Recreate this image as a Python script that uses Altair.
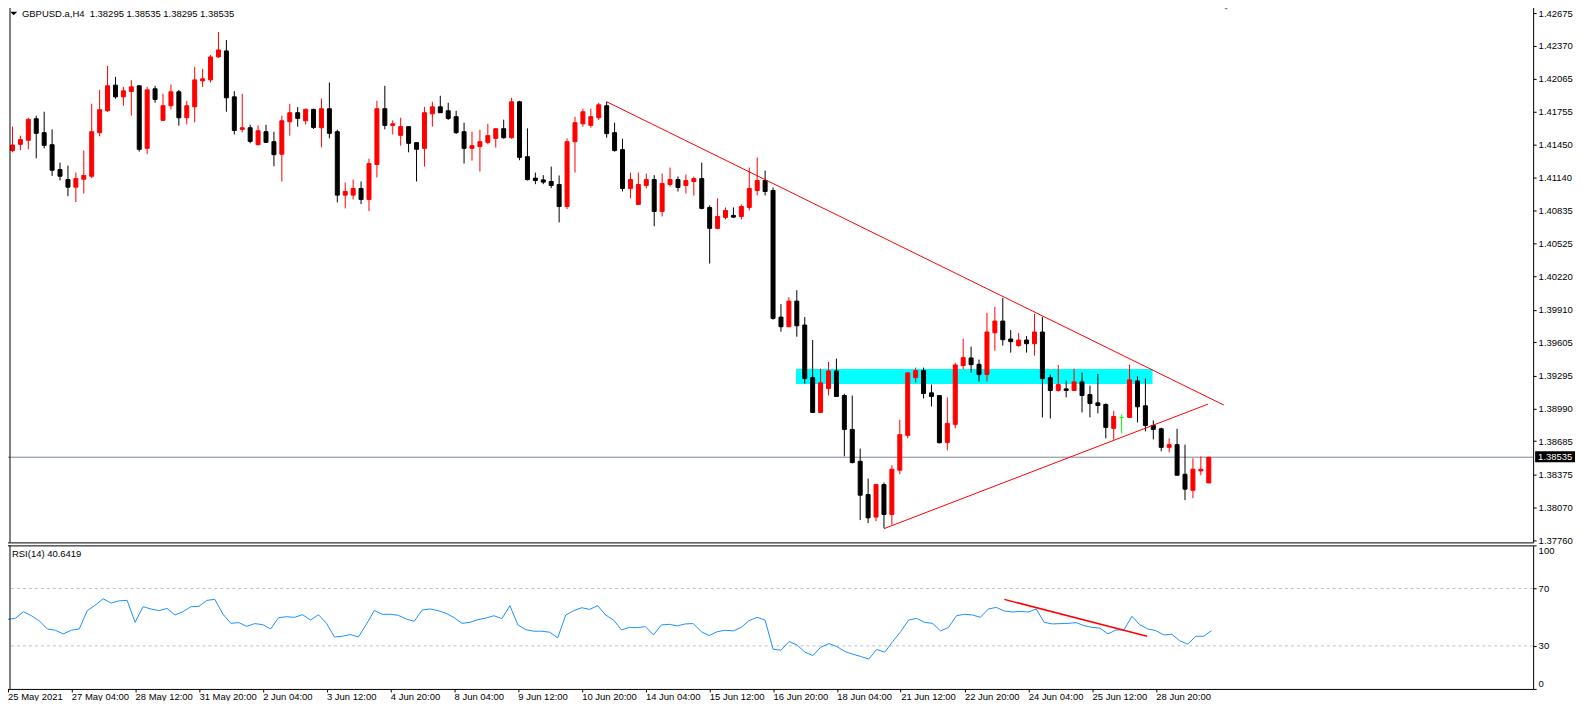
import json
import numpy as np
import pandas as pd
import altair as alt

# ---------------- data ----------------
symbol = "GBPUSD.a,H4"

opens = [1.41393, 1.41451, 1.41489, 1.41690, 1.41560, 1.41448, 1.41216, 1.41123, 1.41052, 1.41126,
         1.41154, 1.41560, 1.41764, 1.42003, 1.41894, 1.41944, 1.41997, 1.41414, 1.41969, 1.41675,
         1.41811, 1.41941, 1.41699, 1.41801, 1.42043, 1.42052, 1.42266, 1.42322, 1.41894, 1.41591,
         1.41606, 1.41448, 1.41569, 1.41476, 1.41359, 1.41662, 1.41746, 1.41671, 1.41777, 1.41606,
         1.41783, 1.41569, 1.40978, 1.40978, 1.41040, 1.40937, 1.41263, 1.41783, 1.41628, 1.41535,
         1.41616, 1.41467, 1.41414, 1.41736, 1.41801, 1.41764, 1.41709, 1.41569, 1.41414, 1.41430,
         1.41470, 1.41507, 1.41597, 1.41513, 1.41848, 1.41336, 1.41136, 1.41120, 1.41105, 1.41077,
         1.40872, 1.41476, 1.41643, 1.41628, 1.41699, 1.41811, 1.41560, 1.41402, 1.41040, 1.40891,
         1.41068, 1.41123, 1.40826, 1.41077, 1.41123, 1.41068, 1.41105, 1.41132, 1.40863, 1.40668,
         1.40770, 1.40789, 1.40779, 1.40863, 1.41021, 1.41114, 1.41021, 1.39841, 1.39751, 1.39990,
         1.39767, 1.39277, 1.38952, 1.39175, 1.39339, 1.39110, 1.38794, 1.38497, 1.38187, 1.37977,
         1.38280, 1.38001, 1.38414, 1.38739, 1.39277, 1.39342, 1.39135, 1.39110, 1.38673, 1.38841,
         1.39389, 1.39460, 1.39401, 1.39305, 1.39695, 1.39804, 1.39637, 1.39575, 1.39627, 1.39593,
         1.39702, 1.39277, 1.39157, 1.39172, 1.39157, 1.39237, 1.39119, 1.39042, 1.39027, 1.38804,
         1.38906, 1.38906, 1.39246, 1.39014, 1.38831, 1.38800, 1.38627, 1.38652, 1.38376, 1.38227,
         1.38407, 1.38295]

highs = [1.41616, 1.41532, 1.41699, 1.41718, 1.41755, 1.41591, 1.41281, 1.41253, 1.41188, 1.41393,
         1.41829, 1.41959, 1.42182, 1.42080, 1.41987, 1.42049, 1.42000, 1.41987, 1.41997, 1.41922,
         1.42009, 1.41959, 1.41857, 1.42173, 1.42155, 1.42285, 1.42498, 1.42424, 1.41947, 1.41922,
         1.41634, 1.41628, 1.41634, 1.41569, 1.41718, 1.41829, 1.41798, 1.41786, 1.41783, 1.41876,
         1.42028, 1.41588, 1.41095, 1.41123, 1.41105, 1.41318, 1.41857, 1.41997, 1.41675, 1.41699,
         1.41620, 1.41470, 1.41801, 1.41848, 1.41904, 1.41839, 1.41764, 1.41653, 1.41569, 1.41588,
         1.41643, 1.41600, 1.41681, 1.41885, 1.41857, 1.41600, 1.41188, 1.41164, 1.41244, 1.41161,
         1.41507, 1.41709, 1.41783, 1.41783, 1.41839, 1.41848, 1.41653, 1.41504, 1.41188, 1.41188,
         1.41179, 1.41164, 1.41179, 1.41235, 1.41151, 1.41170, 1.41151, 1.41281, 1.40882, 1.40947,
         1.40863, 1.40863, 1.40891, 1.41235, 1.41328, 1.41207, 1.41049, 1.39962, 1.40027, 1.40092,
         1.39841, 1.39627, 1.39361, 1.39423, 1.39454, 1.39126, 1.39110, 1.38615, 1.38336, 1.38286,
         1.38299, 1.38460, 1.38884, 1.39324, 1.39370, 1.39370, 1.39212, 1.39113, 1.39092, 1.39414,
         1.39640, 1.39565, 1.39445, 1.39881, 1.39937, 1.40021, 1.39720, 1.39692, 1.39664, 1.39872,
         1.39841, 1.39305, 1.39395, 1.39249, 1.39361, 1.39324, 1.39203, 1.39311, 1.39036, 1.38968,
         1.38934, 1.39398, 1.39287, 1.39268, 1.38878, 1.38810, 1.38711, 1.38800, 1.38652, 1.38525,
         1.38543, 1.38535]

lows = [1.41377, 1.41396, 1.41405, 1.41321, 1.41414, 1.41157, 1.41114, 1.40968, 1.40913, 1.40993,
        1.41136, 1.41526, 1.41755, 1.41876, 1.41811, 1.41718, 1.41383, 1.41359, 1.41839, 1.41672,
        1.41777, 1.41625, 1.41637, 1.41656, 1.41987, 1.42028, 1.42257, 1.41755, 1.41544, 1.41563,
        1.41461, 1.41442, 1.41464, 1.41247, 1.41105, 1.41532, 1.41616, 1.41637, 1.41594, 1.41424,
        1.41507, 1.40910, 1.40854, 1.40937, 1.40894, 1.40829, 1.41142, 1.41591, 1.41544, 1.41439,
        1.41377, 1.41105, 1.41244, 1.41616, 1.41743, 1.41678, 1.41548, 1.41272, 1.41300, 1.41198,
        1.41451, 1.41421, 1.41504, 1.41504, 1.41303, 1.41114, 1.41080, 1.41080, 1.41043, 1.40724,
        1.40848, 1.41188, 1.41616, 1.41606, 1.41678, 1.41513, 1.41383, 1.41012, 1.40947, 1.40888,
        1.41040, 1.40687, 1.40779, 1.41058, 1.41012, 1.40993, 1.40975, 1.40845, 1.40340, 1.40659,
        1.40752, 1.40764, 1.40752, 1.40835, 1.40975, 1.40975, 1.39817, 1.39705, 1.39748, 1.39658,
        1.39222, 1.38949, 1.38949, 1.39110, 1.39098, 1.38543, 1.38478, 1.37949, 1.37921, 1.37939,
        1.37874, 1.37902, 1.38376, 1.38711, 1.39231, 1.39082, 1.39008, 1.38664, 1.38599, 1.38804,
        1.39355, 1.39324, 1.39240, 1.39240, 1.39528, 1.39575, 1.39510, 1.39565, 1.39510, 1.39482,
        1.38906, 1.38896, 1.39147, 1.39092, 1.39154, 1.38952, 1.38906, 1.38943, 1.38711, 1.38698,
        1.38757, 1.38900, 1.38859, 1.38776, 1.38701, 1.38590, 1.38581, 1.38364, 1.38135, 1.38153,
        1.38367, 1.38295]

closes = [1.41445, 1.41495, 1.41684, 1.41554, 1.41442, 1.41210, 1.41154, 1.41052, 1.41132, 1.41161,
          1.41569, 1.41774, 1.41997, 1.41894, 1.41950, 1.41987, 1.41405, 1.41959, 1.41870, 1.41811,
          1.41941, 1.41699, 1.41811, 1.42052, 1.42062, 1.42266, 1.42331, 1.41885, 1.41581, 1.41606,
          1.41479, 1.41578, 1.41470, 1.41355, 1.41671, 1.41746, 1.41693, 1.41777, 1.41609, 1.41783,
          1.41554, 1.40978, 1.41012, 1.41040, 1.40937, 1.41272, 1.41783, 1.41628, 1.41643, 1.41616,
          1.41461, 1.41405, 1.41746, 1.41801, 1.41746, 1.41693, 1.41560, 1.41414, 1.41439, 1.41476,
          1.41532, 1.41597, 1.41513, 1.41848, 1.41330, 1.41123, 1.41114, 1.41099, 1.41068, 1.40872,
          1.41476, 1.41653, 1.41755, 1.41709, 1.41820, 1.41551, 1.41393, 1.41040, 1.41123, 1.41077,
          1.41123, 1.40826, 1.41086, 1.41123, 1.41049, 1.41114, 1.41132, 1.40854, 1.40668, 1.40779,
          1.40835, 1.40773, 1.40872, 1.41040, 1.41114, 1.41012, 1.39829, 1.39751, 1.39990, 1.39760,
          1.39268, 1.38952, 1.39228, 1.39339, 1.39101, 1.38794, 1.38485, 1.38181, 1.37970, 1.38280,
          1.38001, 1.38423, 1.38745, 1.39321, 1.39342, 1.39129, 1.39101, 1.38670, 1.38850, 1.39395,
          1.39463, 1.39398, 1.39305, 1.39702, 1.39804, 1.39630, 1.39612, 1.39627, 1.39593, 1.39702,
          1.39268, 1.39157, 1.39212, 1.39157, 1.39237, 1.39110, 1.39036, 1.39017, 1.38813, 1.38915,
          1.38906, 1.39256, 1.39005, 1.38831, 1.38794, 1.38627, 1.38652, 1.38367, 1.38237, 1.38423,
          1.38423, 1.38535]

rsi_values = [48.5, 49.2, 53.8, 51.0, 47.3, 41.8, 40.9, 38.3, 40.9, 41.8,
              54.5, 58.4, 62.8, 59.8, 61.4, 61.7, 46.4, 57.3, 55.7, 54.5,
              56.1, 51.5, 53.8, 57.3, 57.5, 61.7, 62.4, 52.2, 45.7, 46.2,
              43.6, 45.5, 44.8, 41.8, 49.7, 50.3, 49.9, 51.7, 48.0, 51.7,
              45.7, 36.2, 36.7, 37.9, 36.2, 45.0, 54.7, 52.0, 52.0, 51.3,
              48.7, 47.1, 55.0, 55.7, 54.5, 52.7, 49.7, 45.7, 46.4, 48.3,
              49.4, 51.0, 49.0, 58.0, 44.6, 41.3, 40.2, 40.2, 39.5, 35.6,
              51.5, 54.5, 56.6, 55.4, 58.0, 51.5, 48.0, 41.1, 42.9, 42.7,
              43.4, 37.6, 44.6, 45.0, 43.9, 45.3, 45.5, 39.9, 37.2, 39.9,
              40.9, 40.4, 42.9, 47.6, 49.9, 48.0, 27.7, 27.0, 33.0, 30.7,
              25.6, 23.3, 29.1, 31.6, 29.5, 26.1, 24.2, 22.6, 20.8, 27.5,
              25.6, 33.0, 39.9, 48.0, 49.2, 46.4, 45.7, 40.4, 42.9, 51.0,
              52.0, 51.5, 49.9, 55.7, 56.8, 54.3, 53.6, 54.0, 53.6, 55.7,
              46.4, 45.3, 45.5, 45.7, 46.2, 44.1, 42.9, 42.3, 38.3, 41.1,
              41.1, 50.6, 44.6, 41.8, 40.6, 37.6, 38.1, 33.5, 31.2, 36.7,
              36.7, 40.6419]

x_labels = ["25 May 2021", "27 May 04:00", "28 May 12:00", "31 May 20:00", "2 Jun 04:00",
            "3 Jun 12:00", "4 Jun 20:00", "8 Jun 04:00", "9 Jun 12:00", "10 Jun 20:00",
            "14 Jun 04:00", "15 Jun 12:00", "16 Jun 20:00", "18 Jun 04:00", "21 Jun 12:00",
            "22 Jun 20:00", "24 Jun 04:00", "25 Jun 12:00", "28 Jun 20:00"]
bars_per_label = 8

price_ticks = [1.42675, 1.42370, 1.42065, 1.41755, 1.41450, 1.41140, 1.40835, 1.40525, 1.40220,
               1.39910, 1.39605, 1.39295, 1.38990, 1.38685, 1.38375, 1.38070, 1.37760]
price_domain = [1.37741, 1.42749]

rsi_ticks = [0, 30, 70, 100]
rsi_levels = [30, 70]

bid_price = 1.38535

zone_from, zone_to = 98.9, 143.9
zone_low, zone_high = 1.39218, 1.39358

trend_start_bar = [75, 110]
trend_start_price = [1.41848, 1.37869]
trend_end_bar = [152.9, 150.9]
trend_end_price = [1.39021, 1.39030]

rsi_trend_bar = [125.0, 142.9]
rsi_trend_value = [62.4, 36.7]

# ---------------- build tables ----------------
n = len(opens)
df = pd.DataFrame({"i": np.arange(n), "O": opens, "H": highs, "L": lows, "C": closes})
df["dir"] = np.where(df["C"] > df["O"], "up", np.where(df["C"] < df["O"], "down", "doji"))
rsi_df = pd.DataFrame({"i": np.arange(n), "rsi": rsi_values})

zone_df = pd.DataFrame({"x1": [zone_from], "x2": [zone_to], "p1": [zone_low], "p2": [zone_high]})
trend_df = pd.DataFrame({"x1": trend_start_bar, "y1": trend_start_price,
                         "x2": trend_end_bar, "y2": trend_end_price})
bid_df = pd.DataFrame({"price": [bid_price], "label": [f"{bid_price:.5f}"]})
lvl_df = pd.DataFrame({"lvl": rsi_levels})
rsi_tr_df = pd.DataFrame({"x1": [rsi_trend_bar[0]], "x2": [rsi_trend_bar[1]],
                          "y1": [rsi_trend_value[0]], "y2": [rsi_trend_value[1]]})

title_text = (f"{symbol}\u00a0\u00a0{opens[-1]:.5f} {highs[-1]:.5f} "
              f"{lows[-1]:.5f} {closes[-1]:.5f}")
title_df = pd.DataFrame({"t": [title_text]})
rsi_title_df = pd.DataFrame({"t": [f"RSI(14) {rsi_values[-1]:.4f}"]})

# ---------------- styling ----------------
FONT = "Liberation Sans"
FS = 9.5
W = 1531
H_MAIN = 539
H_RSI = 144

x_scale = alt.Scale(domain=[-0.0625, -0.0625 + W / 8], nice=False, zero=False)
y_scale = alt.Scale(domain=price_domain, nice=False, zero=False)
r_scale = alt.Scale(domain=[0, 100], nice=False, zero=False)
color_scale = alt.Scale(domain=["up", "down", "doji"], range=["#FF0000", "#000000", "#00FF00"])

price_axis = alt.Axis(orient="right", values=price_ticks, format=".5f", title=None,
                      tickSize=3, labelPadding=2, labelFlush=False, labelOverlap=False)
time_axis = alt.Axis(values=list(range(0, bars_per_label * len(x_labels), bars_per_label)),
                     labelExpr=f"{json.dumps(x_labels)}[round(datum.value / {bars_per_label})]",
                     labelAlign="left", labelFlush=False, labelOverlap=False, labelPadding=0,
                     tickSize=3, labelBaseline="top", title=None)
rsi_axis = alt.Axis(orient="right", values=rsi_ticks, title=None, tickSize=3,
                    labelPadding=2, labelFlush=True, labelOverlap=False)


def PX(f):
    return alt.X(f, type="quantitative", scale=x_scale, axis=None)


def PY(f):
    return alt.Y(f, type="quantitative", scale=y_scale, axis=price_axis)


# ---------------- main price panel ----------------
zone = alt.Chart(zone_df).mark_rect(color="#00FFFF").encode(
    x=PX("x1"), x2="x2:Q", y=PY("p1"), y2="p2:Q")

bid_line = alt.Chart(bid_df).mark_rule(color="#778899", strokeWidth=1).encode(y=PY("price"))

wicks = alt.Chart(df).mark_rule(strokeWidth=1).encode(
    x=PX("i"), y=PY("L"), y2="H:Q",
    color=alt.Color("dir:N", scale=color_scale, legend=None))

bodies = alt.Chart(df).mark_bar(size=4, strokeWidth=1).encode(
    x=PX("i"), y=PY("O"), y2="C:Q",
    color=alt.Color("dir:N", scale=color_scale, legend=None),
    stroke=alt.Stroke("dir:N", scale=color_scale, legend=None))

trends = alt.Chart(trend_df).mark_rule(color="#FF0000", strokeWidth=1).encode(
    x=PX("x1"), x2="x2:Q", y=PY("y1"), y2="y2:Q")

bid_box = alt.Chart(bid_df).mark_rect(color="#000000", yOffset=-6, y2Offset=5).encode(
    x=alt.value(W + 2), x2=alt.value(W + 42), y=PY("price"), y2="price:Q")

bid_text = alt.Chart(bid_df).mark_text(align="left", baseline="middle", font=FONT,
                                       fontSize=FS, color="white", dx=5).encode(
    x=alt.value(W), y=PY("price"), text="label:N")

title_mark = alt.Chart(title_df).mark_text(align="left", baseline="middle", font=FONT,
                                           fontSize=FS, color="black").encode(
    x=alt.value(15), y=alt.value(9), text="t:N")

title_tri = alt.Chart(title_df).mark_point(shape="M-1,-0.5L1,-0.5L0,0.5Z", filled=True,
                                           color="black", size=49, opacity=1,
                                           strokeWidth=0).encode(
    x=alt.value(6.7), y=alt.value(8.5))

shift_tri = alt.Chart(title_df).mark_point(shape="M-1,-0.5L1,-0.5L0,0.5Z", filled=True,
                                           color="#778899", size=81, opacity=1,
                                           strokeWidth=0).encode(
    x=alt.value(W - 308), y=alt.value(2.5))

left_edge_main = alt.Chart(title_df).mark_rule(color="black", strokeWidth=1).encode(
    x=alt.value(3), y=alt.value(0), y2=alt.value(H_MAIN))

main = alt.layer(zone, bid_line, wicks, bodies, trends, bid_box, bid_text,
                 title_mark, title_tri, shift_tri, left_edge_main).properties(width=W, height=H_MAIN)

# ---------------- RSI panel ----------------
levels = alt.Chart(lvl_df).mark_rule(color="#C0C0C0", strokeDash=[3, 3], strokeWidth=1).encode(
    y=alt.Y("lvl:Q", scale=r_scale, axis=rsi_axis))

rsi_line = alt.Chart(rsi_df).mark_line(color="#1E90FF", strokeWidth=1).encode(
    x=alt.X("i:Q", scale=x_scale, axis=time_axis),
    y=alt.Y("rsi:Q", scale=r_scale, axis=rsi_axis))

rsi_trend = alt.Chart(rsi_tr_df).mark_rule(color="#FF0000", strokeWidth=1.5).encode(
    x=alt.X("x1:Q", scale=x_scale, axis=time_axis), x2="x2:Q",
    y=alt.Y("y1:Q", scale=r_scale, axis=rsi_axis), y2="y2:Q")

rsi_title = alt.Chart(rsi_title_df).mark_text(align="left", baseline="middle", font=FONT,
                                              fontSize=FS, color="black").encode(
    x=alt.value(5), y=alt.value(9), text="t:N")

left_edge_rsi = alt.Chart(rsi_title_df).mark_rule(color="black", strokeWidth=1).encode(
    x=alt.value(3), y=alt.value(0), y2=alt.value(H_RSI))

rsi_panel = alt.layer(levels, rsi_line, rsi_trend, rsi_title,
                      left_edge_rsi).properties(width=W, height=H_RSI)

chart = alt.vconcat(main, rsi_panel, spacing=3, bounds="flush").properties(
    padding={"left": -3, "top": -5, "right": 0, "bottom": -2},
    background="white",
).configure_view(
    stroke="black", strokeWidth=1
).configure_axis(
    labelFont=FONT, labelFontSize=FS, labelColor="black", tickColor="black",
    domain=False, grid=False
)

chart.save("out.html", embed_options={"renderer": "svg", "actions": False})
